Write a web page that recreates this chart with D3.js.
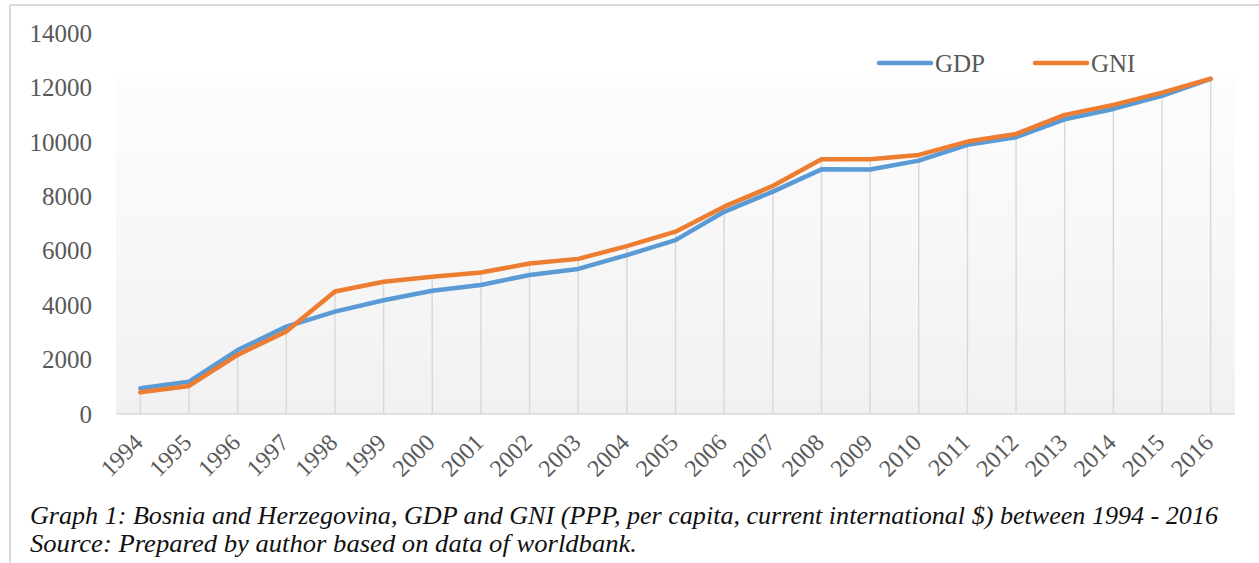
<!DOCTYPE html>
<html lang="en">
<head>
    <meta charset="UTF-8">
    <title>GDP and GNI</title>
    <script src="https://cdnjs.cloudflare.com/ajax/libs/d3/7.8.5/d3.min.js"></script>
    <style>
    body { margin: 0; background: #fff; }
    svg text { font-family: 'Liberation Serif', 'Times New Roman', Times, serif; }
    .tick-label { fill: #595959; }
    .caption { font-style: italic; fill: #111; }
    </style>
</head>

<body>
<script>

    // data
    var years = ["1994","1995","1996","1997","1998","1999","2000","2001","2002","2003","2004",
                 "2005","2006","2007","2008","2009","2010","2011","2012","2013","2014","2015","2016"];
    var gdp = [950, 1190, 2350, 3210, 3760, 4180, 4530, 4740, 5110, 5330, 5840,
               6390, 7430, 8170, 8990, 8985, 9310, 9890, 10170, 10830, 11210, 11690, 12310];
    var gni = [800, 1030, 2170, 3030, 4500, 4860, 5040, 5200, 5530, 5700, 6170,
               6700, 7620, 8380, 9360, 9360, 9520, 10010, 10290, 10990, 11360, 11810, 12320];
    var yTicks = [0, 2000, 4000, 6000, 8000, 10000, 12000, 14000];

    var W = 1259, H = 563;
    var plot = {left: 116, right: 1235, top: 33, bottom: 414};

    var svg = d3.select("body").append("svg")
        .attr("width", W)
        .attr("height", H);

    var x = d3.scaleBand().domain(years).range([plot.left, plot.right]);
    var y = d3.scaleLinear().domain([0, 14000]).range([plot.bottom, plot.top]);
    var cx = function(d) { return x(d) + x.bandwidth() / 2; };

    // outer frame (only top and left show in the crop)
    svg.append("line").attr("x1", 10).attr("x2", W).attr("y1", 5).attr("y2", 5)
        .attr("stroke", "#d9d9d9").attr("stroke-width", 2);
    svg.append("line").attr("x1", 10).attr("x2", 10).attr("y1", 5).attr("y2", H)
        .attr("stroke", "#d9d9d9").attr("stroke-width", 2);

    // plot area gradient
    var grad = svg.append("defs").append("linearGradient")
        .attr("id", "bg").attr("x1", 0).attr("x2", 0).attr("y1", 0).attr("y2", 1);
    grad.append("stop").attr("offset", "0%").attr("stop-color", "#fdfdfd");
    grad.append("stop").attr("offset", "100%").attr("stop-color", "#f1f1f1");

    svg.append("rect")
        .attr("x", plot.left).attr("y", 77)
        .attr("width", plot.right - plot.left)
        .attr("height", plot.bottom - 77)
        .attr("fill", "url(#bg)");

    // drop lines
    svg.selectAll("line.drop")
        .data(years)
        .enter()
        .append("line")
        .attr("class", "drop")
        .attr("x1", cx).attr("x2", cx)
        .attr("y1", y(0))
        .attr("y2", function(d, i) { return y(Math.max(gdp[i], gni[i])); })
        .attr("stroke", "#d9d9d9")
        .attr("stroke-width", 1.5);

    // category axis line
    svg.append("line")
        .attr("x1", plot.left).attr("x2", plot.right)
        .attr("y1", y(0)).attr("y2", y(0))
        .attr("stroke", "#d9d9d9").attr("stroke-width", 1.5);

    // y labels
    svg.selectAll("text.ylab")
        .data(yTicks)
        .enter()
        .append("text")
        .attr("class", "tick-label")
        .attr("x", 92)
        .attr("y", function(d) { return y(d); })
        .attr("dy", "0.35em")
        .attr("text-anchor", "end")
        .style("font-size", "25px")
        .text(function(d) { return d; });

    // x labels
    svg.selectAll("text.xlab")
        .data(years)
        .enter()
        .append("text")
        .attr("class", "tick-label")
        .attr("transform", function(d) { return "translate(" + (cx(d) + 4) + ",444) rotate(-45)"; })
        .attr("text-anchor", "end")
        .style("font-size", "24px")
        .text(function(d) { return d; });

    // the two series
    var line = d3.line()
        .x(function(d) { return cx(d.year); })
        .y(function(d) { return y(d.v); });

    var series = [
        {name: "GDP", color: "#5b9bd5", values: gdp},
        {name: "GNI", color: "#ed7d31", values: gni}
    ];

    series.forEach(function(s) {
        svg.append("path")
            .datum(years.map(function(yr, i) { return {year: yr, v: s.values[i]}; }))
            .attr("fill", "none")
            .attr("stroke", s.color)
            .attr("stroke-width", 4.5)
            .attr("stroke-linejoin", "round")
            .attr("stroke-linecap", "round")
            .attr("d", line);
    });

    // legend
    var legendX = [879, 1035];
    series.forEach(function(s, i) {
        svg.append("line")
            .attr("x1", legendX[i]).attr("x2", legendX[i] + 52)
            .attr("y1", 63).attr("y2", 63)
            .attr("stroke", s.color).attr("stroke-width", 4.5)
            .attr("stroke-linecap", "round");
        svg.append("text")
            .attr("class", "tick-label")
            .attr("x", legendX[i] + 56)
            .attr("y", 63)
            .attr("dy", "0.35em")
            .style("font-size", "25px")
            .text(s.name);
    });

    // caption
    svg.append("text")
        .attr("class", "caption")
        .attr("x", 30).attr("y", 524)
        .style("font-size", "25px")
        .attr("textLength", 1188)
        .attr("lengthAdjust", "spacingAndGlyphs")
        .text("Graph 1: Bosnia and Herzegovina, GDP and GNI (PPP, per capita, current international $) between 1994 - 2016");

    svg.append("text")
        .attr("class", "caption")
        .attr("x", 30).attr("y", 552)
        .style("font-size", "25px")
        .attr("textLength", 607)
        .attr("lengthAdjust", "spacingAndGlyphs")
        .text("Source: Prepared by author based on data of worldbank.");

</script>
</body>
</html>
